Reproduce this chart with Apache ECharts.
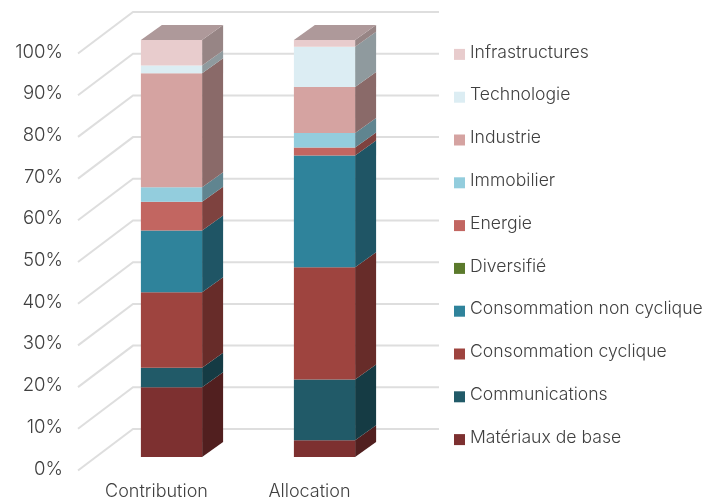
<!DOCTYPE html>
<html><head><meta charset="utf-8">
<style>html,body{margin:0;padding:0;background:#fff}#c{width:719px;height:498px}</style>
<script src="https://cdn.jsdelivr.net/npm/echarts@6/dist/echarts.min.js"></script></head>
<body><div id="c"></div>
<script>
const categories = ['Contribution', 'Allocation'];
const sectors = ['Matériaux de base','Communications','Consommation cyclique','Consommation non cyclique','Diversifié','Energie','Immobilier','Industrie','Technologie','Infrastructures'];
const contribution = [16.7, 4.7, 18.1, 14.8, 0, 6.9, 3.5, 27.3, 1.9, 6.1];
const allocation   = [4.0, 14.6, 26.9, 26.8, 0, 1.9, 3.5, 11.0, 9.7, 1.6];
const colors = ['#7d3030','#215a68','#9e443f','#2f839b','#5b7a2c','#c26661','#93cddd','#d5a3a1','#dcedf3','#e8cccd'];
const yTicks = [0,10,20,30,40,50,60,70,80,90,100];

const FONT = 'Inter';
const TEXT = '#404040';
// oblique projection of the 3D box: depth of the bars and of the back wall
const barNear = [15, -12], barFar = [36, -27], wall = [53, -40];

function shade(hex, k){
  const n = parseInt(hex.slice(1),16);
  const c = [n>>16, (n>>8)&255, n&255].map(v=>Math.round(v*k));
  return 'rgb('+c.join(',')+')';
}
function stackOf(vals){ let s=0; return vals.map(v=>{const a=s; s+=v; return [a,s];}); }
const stacks = [stackOf(contribution), stackOf(allocation)];

const wallSeries = {
  type:'custom', silent:true, clip:false, z:1, legendHoverLink:false, tooltip:{show:false},
  data: yTicks.map(t=>[t]),
  encode:{y:0},
  renderItem(p, api){
    const pt = api.coord([0, api.value(0)]);
    const cs = p.coordSys;
    const a=[cs.x-2, pt[1]+1.5], b=[cs.x+wall[0], pt[1]+wall[1]], c=[cs.x+cs.width+wall[0], pt[1]+wall[1]];
    return {type:'polyline', shape:{points:[a,b,c]}, style:{stroke:'#dedede', lineWidth:2, fill:null}};
  }
};

const barSeries = sectors.map((name,i)=>({
  name, type:'custom', clip:false, z:2,
  itemStyle:{color:colors[i]},
  data: categories.map((_,k)=>[k, stacks[k][i][0], stacks[k][i][1]]),
  encode:{x:0, y:[1,2]},
  renderItem(p, api){
    const k=api.value(0), lo=api.value(1), hi=api.value(2);
    if(hi-lo<=0) return {type:'group',children:[]};
    const w=api.size([1,0])[0]*0.4;
    const L=api.coord([k,lo]), H=api.coord([k,hi]);
    const x0=L[0]-w/2+barNear[0], x1=x0+w, yb=L[1]+barNear[1], yt=H[1]+barNear[1];
    const dx=barFar[0]-barNear[0], dy=barFar[1]-barNear[1];
    const ch=[
      {type:'polygon', shape:{points:[[x1,yb],[x1+dx,yb+dy],[x1+dx,yt+dy],[x1,yt]]}, style:{fill:shade(colors[i],0.65)}},
      {type:'polygon', shape:{points:[[x0,yb],[x1,yb],[x1,yt],[x0,yt]]}, style:{fill:colors[i]}}
    ];
    if(i===sectors.length-1) ch.push({type:'polygon', shape:{points:[[x0,yt],[x1,yt],[x1+dx,yt+dy],[x0+dx,yt+dy]]}, style:{fill:shade(colors[i],0.75)}});
    return {type:'group',children:ch};
  }
}));

const chart = echarts.init(document.getElementById('c'),null,{renderer:'canvas'});
chart.setOption({
  animation:false, backgroundColor:'#fff',
  grid:{left:80, width:306, top:52, height:417, containLabel:false, outerBoundsMode:'none'},
  xAxis:{type:'category', data:categories, axisLine:{show:false}, axisTick:{show:false},
    axisLabel:{fontFamily:FONT, fontWeight:300, fontSize:18, color:TEXT, margin:14}},
  yAxis:{type:'value', min:0, max:100, interval:10, splitLine:{show:false}, axisLine:{show:false}, axisTick:{show:false},
    axisLabel:{formatter:'{value}%', fontFamily:FONT, fontWeight:300, fontSize:18.6, color:TEXT, margin:17, padding:[0,0,7,0]}},
  legend:{orient:'vertical', left:454, top:43.4, padding:0, itemWidth:11, itemHeight:11, itemGap:20.8, icon:'rect',
    data:sectors.slice().reverse(),
    formatter:'{t|{name}}',
    textStyle:{rich:{t:{fontFamily:FONT, fontWeight:300, fontSize:17.6, color:TEXT, padding:[0,0,4,0], lineHeight:19}}}},
  series:[wallSeries].concat(barSeries)
});
</script></body></html>
